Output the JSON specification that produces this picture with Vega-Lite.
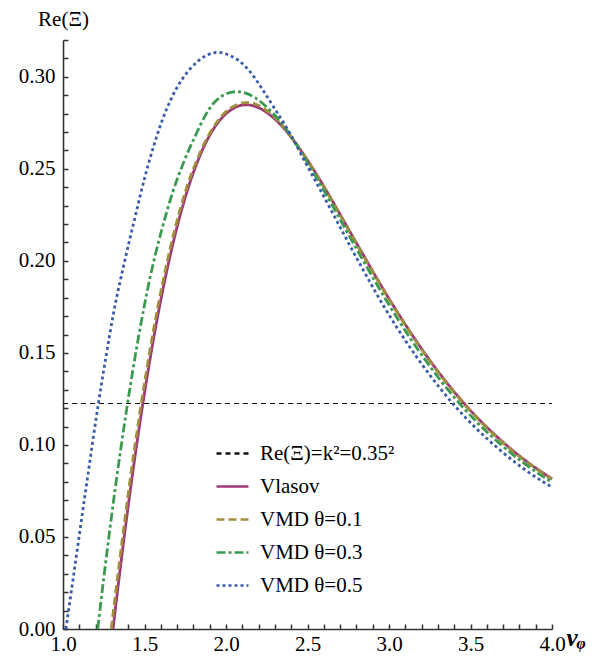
{
  "$schema": "https://vega.github.io/schema/vega-lite/v6.json",
  "width": 489,
  "height": 589,
  "autosize": "none",
  "padding": {"left": 63, "top": 40, "right": 49, "bottom": 29},
  "background": "white",
  "config": {"view": {"stroke": null}},
  "data": {"values": [
    {"s": "Re(\u039e)=k\u00b2=0.35\u00b2", "v": 1.0, "y": 0.1225},
    {"s": "Re(\u039e)=k\u00b2=0.35\u00b2", "v": 4.0, "y": 0.1225},
    {"s": "Vlasov", "v": 1.3069, "y": 0},
    {"s": "Vlasov", "v": 1.3435, "y": 0.0273},
    {"s": "Vlasov", "v": 1.4142, "y": 0.0762},
    {"s": "Vlasov", "v": 1.4849, "y": 0.1196},
    {"s": "Vlasov", "v": 1.5556, "y": 0.1577},
    {"s": "Vlasov", "v": 1.6263, "y": 0.1902},
    {"s": "Vlasov", "v": 1.6971, "y": 0.2175},
    {"s": "Vlasov", "v": 1.7678, "y": 0.2396},
    {"s": "Vlasov", "v": 1.8385, "y": 0.2568},
    {"s": "Vlasov", "v": 1.9092, "y": 0.2696},
    {"s": "Vlasov", "v": 1.9799, "y": 0.2782},
    {"s": "Vlasov", "v": 2.0506, "y": 0.2831},
    {"s": "Vlasov", "v": 2.1213, "y": 0.2848},
    {"s": "Vlasov", "v": 2.192, "y": 0.2835},
    {"s": "Vlasov", "v": 2.2627, "y": 0.2798},
    {"s": "Vlasov", "v": 2.3335, "y": 0.2741},
    {"s": "Vlasov", "v": 2.4042, "y": 0.2667},
    {"s": "Vlasov", "v": 2.4749, "y": 0.258},
    {"s": "Vlasov", "v": 2.5456, "y": 0.2484},
    {"s": "Vlasov", "v": 2.6163, "y": 0.2381},
    {"s": "Vlasov", "v": 2.687, "y": 0.2273},
    {"s": "Vlasov", "v": 2.7577, "y": 0.2163},
    {"s": "Vlasov", "v": 2.8284, "y": 0.2054},
    {"s": "Vlasov", "v": 2.9698, "y": 0.1839},
    {"s": "Vlasov", "v": 3.1113, "y": 0.1639},
    {"s": "Vlasov", "v": 3.2527, "y": 0.1457},
    {"s": "Vlasov", "v": 3.3941, "y": 0.1295},
    {"s": "Vlasov", "v": 3.5355, "y": 0.1154},
    {"s": "Vlasov", "v": 3.677, "y": 0.1033},
    {"s": "Vlasov", "v": 3.8184, "y": 0.0928},
    {"s": "Vlasov", "v": 3.9598, "y": 0.0839},
    {"s": "Vlasov", "v": 4.0, "y": 0.0816},
    {"s": "VMD \u03b8=0.1", "v": 1.296, "y": 0},
    {"s": "VMD \u03b8=0.1", "v": 1.3335, "y": 0.0273},
    {"s": "VMD \u03b8=0.1", "v": 1.4042, "y": 0.0762},
    {"s": "VMD \u03b8=0.1", "v": 1.4749, "y": 0.1196},
    {"s": "VMD \u03b8=0.1", "v": 1.5456, "y": 0.1577},
    {"s": "VMD \u03b8=0.1", "v": 1.6163, "y": 0.1902},
    {"s": "VMD \u03b8=0.1", "v": 1.6871, "y": 0.2175},
    {"s": "VMD \u03b8=0.1", "v": 1.7578, "y": 0.2396},
    {"s": "VMD \u03b8=0.1", "v": 1.8385, "y": 0.2583},
    {"s": "VMD \u03b8=0.1", "v": 1.9092, "y": 0.2707},
    {"s": "VMD \u03b8=0.1", "v": 1.9799, "y": 0.2793},
    {"s": "VMD \u03b8=0.1", "v": 2.0506, "y": 0.2842},
    {"s": "VMD \u03b8=0.1", "v": 2.1213, "y": 0.286},
    {"s": "VMD \u03b8=0.1", "v": 2.192, "y": 0.2848},
    {"s": "VMD \u03b8=0.1", "v": 2.2627, "y": 0.2808},
    {"s": "VMD \u03b8=0.1", "v": 2.3335, "y": 0.2748},
    {"s": "VMD \u03b8=0.1", "v": 2.4042, "y": 0.2669},
    {"s": "VMD \u03b8=0.1", "v": 2.4749, "y": 0.2578},
    {"s": "VMD \u03b8=0.1", "v": 2.5456, "y": 0.248},
    {"s": "VMD \u03b8=0.1", "v": 2.6163, "y": 0.2377},
    {"s": "VMD \u03b8=0.1", "v": 2.687, "y": 0.2269},
    {"s": "VMD \u03b8=0.1", "v": 2.7577, "y": 0.2159},
    {"s": "VMD \u03b8=0.1", "v": 2.8284, "y": 0.205},
    {"s": "VMD \u03b8=0.1", "v": 2.9698, "y": 0.1835},
    {"s": "VMD \u03b8=0.1", "v": 3.1113, "y": 0.1635},
    {"s": "VMD \u03b8=0.1", "v": 3.2527, "y": 0.1453},
    {"s": "VMD \u03b8=0.1", "v": 3.3941, "y": 0.1291},
    {"s": "VMD \u03b8=0.1", "v": 3.5355, "y": 0.115},
    {"s": "VMD \u03b8=0.1", "v": 3.677, "y": 0.1029},
    {"s": "VMD \u03b8=0.1", "v": 3.8184, "y": 0.0925},
    {"s": "VMD \u03b8=0.1", "v": 3.9598, "y": 0.0836},
    {"s": "VMD \u03b8=0.1", "v": 4.0, "y": 0.0813},
    {"s": "VMD \u03b8=0.3", "v": 1.213, "y": 0},
    {"s": "VMD \u03b8=0.3", "v": 1.2495, "y": 0.0273},
    {"s": "VMD \u03b8=0.3", "v": 1.3202, "y": 0.0762},
    {"s": "VMD \u03b8=0.3", "v": 1.3909, "y": 0.1196},
    {"s": "VMD \u03b8=0.3", "v": 1.4616, "y": 0.1577},
    {"s": "VMD \u03b8=0.3", "v": 1.5323, "y": 0.1902},
    {"s": "VMD \u03b8=0.3", "v": 1.6031, "y": 0.216},
    {"s": "VMD \u03b8=0.3", "v": 1.6738, "y": 0.2375},
    {"s": "VMD \u03b8=0.3", "v": 1.7445, "y": 0.2545},
    {"s": "VMD \u03b8=0.3", "v": 1.81, "y": 0.2676},
    {"s": "VMD \u03b8=0.3", "v": 1.87, "y": 0.2785},
    {"s": "VMD \u03b8=0.3", "v": 1.933, "y": 0.2866},
    {"s": "VMD \u03b8=0.3", "v": 1.97, "y": 0.2892},
    {"s": "VMD \u03b8=0.3", "v": 2.0, "y": 0.2907},
    {"s": "VMD \u03b8=0.3", "v": 2.03, "y": 0.2916},
    {"s": "VMD \u03b8=0.3", "v": 2.06, "y": 0.2919},
    {"s": "VMD \u03b8=0.3", "v": 2.09, "y": 0.2918},
    {"s": "VMD \u03b8=0.3", "v": 2.12, "y": 0.2911},
    {"s": "VMD \u03b8=0.3", "v": 2.178, "y": 0.2887},
    {"s": "VMD \u03b8=0.3", "v": 2.25, "y": 0.2835},
    {"s": "VMD \u03b8=0.3", "v": 2.331, "y": 0.276},
    {"s": "VMD \u03b8=0.3", "v": 2.413, "y": 0.2658},
    {"s": "VMD \u03b8=0.3", "v": 2.4749, "y": 0.257},
    {"s": "VMD \u03b8=0.3", "v": 2.5456, "y": 0.2466},
    {"s": "VMD \u03b8=0.3", "v": 2.6163, "y": 0.2358},
    {"s": "VMD \u03b8=0.3", "v": 2.687, "y": 0.2246},
    {"s": "VMD \u03b8=0.3", "v": 2.7577, "y": 0.2133},
    {"s": "VMD \u03b8=0.3", "v": 2.8284, "y": 0.2022},
    {"s": "VMD \u03b8=0.3", "v": 2.9698, "y": 0.1805},
    {"s": "VMD \u03b8=0.3", "v": 3.1113, "y": 0.1605},
    {"s": "VMD \u03b8=0.3", "v": 3.2527, "y": 0.1425},
    {"s": "VMD \u03b8=0.3", "v": 3.3941, "y": 0.1265},
    {"s": "VMD \u03b8=0.3", "v": 3.5355, "y": 0.1127},
    {"s": "VMD \u03b8=0.3", "v": 3.677, "y": 0.1009},
    {"s": "VMD \u03b8=0.3", "v": 3.8184, "y": 0.0907},
    {"s": "VMD \u03b8=0.3", "v": 3.9598, "y": 0.082},
    {"s": "VMD \u03b8=0.3", "v": 4.0, "y": 0.0798},
    {"s": "VMD \u03b8=0.5", "v": 1.018, "y": 0},
    {"s": "VMD \u03b8=0.5", "v": 1.06, "y": 0.026},
    {"s": "VMD \u03b8=0.5", "v": 1.1, "y": 0.051},
    {"s": "VMD \u03b8=0.5", "v": 1.15, "y": 0.082},
    {"s": "VMD \u03b8=0.5", "v": 1.217, "y": 0.1225},
    {"s": "VMD \u03b8=0.5", "v": 1.26, "y": 0.146},
    {"s": "VMD \u03b8=0.5", "v": 1.313, "y": 0.173},
    {"s": "VMD \u03b8=0.5", "v": 1.38, "y": 0.2005},
    {"s": "VMD \u03b8=0.5", "v": 1.44, "y": 0.223},
    {"s": "VMD \u03b8=0.5", "v": 1.503, "y": 0.2458},
    {"s": "VMD \u03b8=0.5", "v": 1.55, "y": 0.2605},
    {"s": "VMD \u03b8=0.5", "v": 1.605, "y": 0.2755},
    {"s": "VMD \u03b8=0.5", "v": 1.665, "y": 0.2883},
    {"s": "VMD \u03b8=0.5", "v": 1.728, "y": 0.2983},
    {"s": "VMD \u03b8=0.5", "v": 1.78, "y": 0.3043},
    {"s": "VMD \u03b8=0.5", "v": 1.83, "y": 0.3087},
    {"s": "VMD \u03b8=0.5", "v": 1.88, "y": 0.3116},
    {"s": "VMD \u03b8=0.5", "v": 1.91, "y": 0.3127},
    {"s": "VMD \u03b8=0.5", "v": 1.94, "y": 0.3132},
    {"s": "VMD \u03b8=0.5", "v": 1.97, "y": 0.3131},
    {"s": "VMD \u03b8=0.5", "v": 2.0, "y": 0.3124},
    {"s": "VMD \u03b8=0.5", "v": 2.04, "y": 0.3109},
    {"s": "VMD \u03b8=0.5", "v": 2.076, "y": 0.309},
    {"s": "VMD \u03b8=0.5", "v": 2.15, "y": 0.3025},
    {"s": "VMD \u03b8=0.5", "v": 2.25, "y": 0.2895},
    {"s": "VMD \u03b8=0.5", "v": 2.32, "y": 0.2797},
    {"s": "VMD \u03b8=0.5", "v": 2.393, "y": 0.2692},
    {"s": "VMD \u03b8=0.5", "v": 2.4749, "y": 0.2555},
    {"s": "VMD \u03b8=0.5", "v": 2.5456, "y": 0.2439},
    {"s": "VMD \u03b8=0.5", "v": 2.6163, "y": 0.2323},
    {"s": "VMD \u03b8=0.5", "v": 2.687, "y": 0.2205},
    {"s": "VMD \u03b8=0.5", "v": 2.7577, "y": 0.2087},
    {"s": "VMD \u03b8=0.5", "v": 2.8284, "y": 0.1972},
    {"s": "VMD \u03b8=0.5", "v": 2.9698, "y": 0.1751},
    {"s": "VMD \u03b8=0.5", "v": 3.1113, "y": 0.1553},
    {"s": "VMD \u03b8=0.5", "v": 3.2527, "y": 0.1377},
    {"s": "VMD \u03b8=0.5", "v": 3.3941, "y": 0.1222},
    {"s": "VMD \u03b8=0.5", "v": 3.5355, "y": 0.1089},
    {"s": "VMD \u03b8=0.5", "v": 3.677, "y": 0.0975},
    {"s": "VMD \u03b8=0.5", "v": 3.8184, "y": 0.0876},
    {"s": "VMD \u03b8=0.5", "v": 3.9598, "y": 0.0792},
    {"s": "VMD \u03b8=0.5", "v": 4.0, "y": 0.0771}
  ]},
  "encoding": {
    "x": {
      "field": "v", "type": "quantitative",
      "scale": {"domain": [1, 4], "nice": false, "zero": false},
      "axis": {
        "title": "v\u1d69",
        "values": [1.0,1.1,1.2,1.3,1.4,1.5,1.6,1.7,1.8,1.9,2.0,2.1,2.2,2.3,2.4,2.5,2.6,2.7,2.8,2.9,3.0,3.1,3.2,3.3,3.4,3.5,3.6,3.7,3.8,3.9,4.0],
        "labelExpr": "round(datum.value*10)%5==0 ? format(datum.value,'.1f') : ''",
        "grid": false,
        "domainColor": "#333333", "domainWidth": 1.6,
        "tickColor": "#333333", "tickWidth": 1.5, "tickSize": -5,
        "labelFont": "Times New Roman", "labelFontSize": 21, "labelColor": "black",
        "labelPadding": 9, "labelFlush": false, "labelOverlap": false,
        "titleFont": "Times New Roman", "titleFontSize": 25, "titleFontWeight": "bold", "titleFontStyle": "italic",
        "titleColor": "black", "titleX": 503, "titleY": 8, "titleAlign": "left", "titleBaseline": "middle"
      }
    },
    "y": {
      "field": "y", "type": "quantitative",
      "scale": {"domain": [0, 0.32], "nice": false},
      "axis": {
        "title": "Re(\u039e)",
        "values": [0,0.01,0.02,0.03,0.04,0.05,0.06,0.07,0.08,0.09,0.1,0.11,0.12,0.13,0.14,0.15,0.16,0.17,0.18,0.19,0.2,0.21,0.22,0.23,0.24,0.25,0.26,0.27,0.28,0.29,0.3,0.31,0.32],
        "labelExpr": "round(datum.value*100)%5==0 ? format(datum.value,'.2f') : ''",
        "grid": false,
        "domainColor": "#333333", "domainWidth": 1.6,
        "tickColor": "#333333", "tickWidth": 1.5, "tickSize": -5,
        "labelFont": "Times New Roman", "labelFontSize": 21, "labelColor": "black",
        "labelPadding": 13, "labelFlush": false, "labelOverlap": false, "labelBaseline": "middle",
        "titleFont": "Times New Roman", "titleFontSize": 21, "titleFontWeight": "normal",
        "titleColor": "black", "titleAngle": 0, "titleX": 0, "titleY": -21, "titleAlign": "center", "titleBaseline": "middle"
      }
    },
    "color": {
      "field": "s", "type": "nominal",
      "scale": {"domain": ["Re(\u039e)=k\u00b2=0.35\u00b2", "Vlasov", "VMD \u03b8=0.1", "VMD \u03b8=0.3", "VMD \u03b8=0.5"],
                "range": ["#111111", "#9E3A73", "#A08F3F", "#3C9A50", "#3A5CA8"]},
      "legend": {"orient": "none", "legendX": 152, "legendY": 396, "title": null, "padding": 0,
                 "labelFont": "Times New Roman", "labelFontSize": 21, "labelColor": "black", "labelOffset": 10,
                 "symbolSize": 1024, "symbolStrokeWidth": 2.6, "rowPadding": 5, "labelLimit": 400}
    },
    "strokeDash": {
      "field": "s", "type": "nominal",
      "scale": {"domain": ["Re(\u039e)=k\u00b2=0.35\u00b2", "Vlasov", "VMD \u03b8=0.1", "VMD \u03b8=0.3", "VMD \u03b8=0.5"],
                "range": [[5, 4], [1, 0], [8, 4], [9, 3, 3, 3], [3, 3]]},
      "legend": {"orient": "none", "legendX": 152, "legendY": 396, "title": null, "padding": 0,
                 "labelFont": "Times New Roman", "labelFontSize": 21, "labelColor": "black", "labelOffset": 10,
                 "symbolSize": 1024, "symbolStrokeWidth": 2.6, "rowPadding": 5, "labelLimit": 400}
    }
  },
  "layer": [
    {
      "transform": [{"filter": "indexof(datum.s, 'Re(') == 0"}],
      "mark": {"type": "line", "strokeWidth": 1.1}
    },
    {
      "transform": [{"filter": "indexof(datum.s, 'Re(') != 0"}],
      "mark": {"type": "line", "interpolate": "monotone", "strokeWidth": 2.8}
    }
  ]
}
